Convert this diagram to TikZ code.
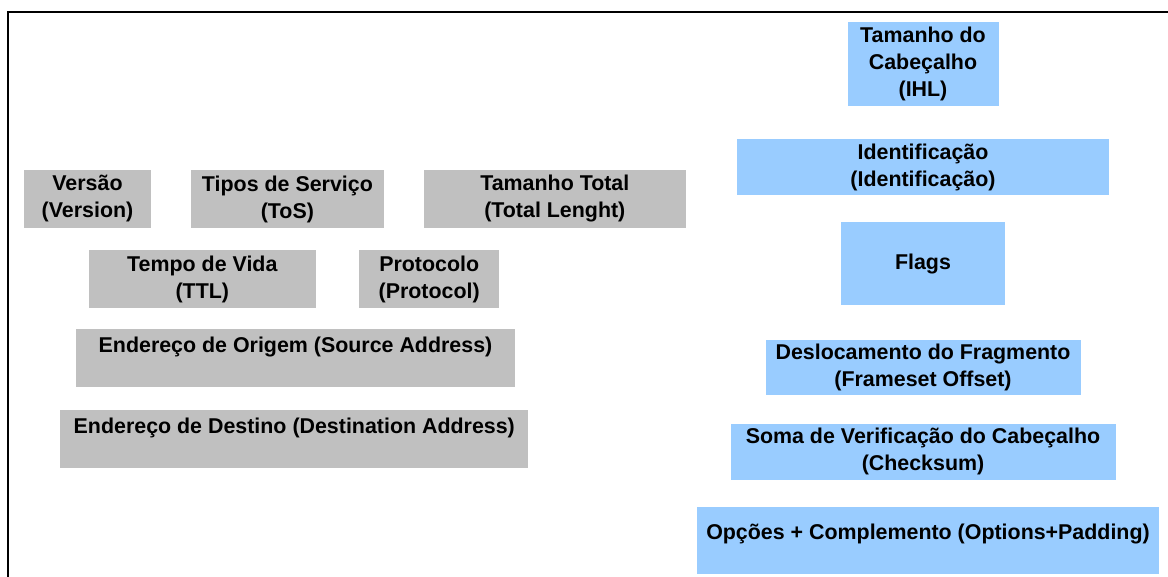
\documentclass[tikz,border=0pt]{standalone}
\usepackage{fontspec}
\setmainfont{Liberation Sans}
\usetikzlibrary{positioning}
\definecolor{ipHeaderGray}{RGB}{192,192,192}
\definecolor{ipHeaderBlue}{RGB}{153,204,255}

\begin{document}
\begin{tikzpicture}[
  x=1pt,y=-1pt,
  field/.style={
    fill=ipHeaderGray,
    inner sep=0pt,
    minimum height=58pt,
    align=center,
    font=\fontsize{21.4}{27}\selectfont\bfseries
  },
  bluefield/.style={field,fill=ipHeaderBlue}
]
  \useasboundingbox (0,0) rectangle (1168,577);
  \draw[line width=2pt] (7.8,577) -- (7.8,12) -- (1168,12);
  % campos em cinza
  \node[field,minimum width=127pt] (versao) at (87.5,199) {Versão\\(Version)};
  \node[field,minimum width=193pt,right=39.5pt of versao] (tos) {Tipos de Serviço\\(ToS)};
  \node[field,minimum width=262pt,right=39.5pt of tos] (totlen) {Tamanho Total\\(Total Lenght)};
  \node[field,minimum width=227pt] (ttl) at (202.3,279.5) {Tempo de Vida\\(TTL)};
  \node[field,minimum width=140pt,right=43pt of ttl] (proto) {Protocolo\\(Protocol)};
  \node[field,minimum width=439pt] (srcaddr) at (295.5,358.3) {Endereço de Origem (Source Address)\\~};
  \node[field,minimum width=468pt] (dstaddr) at (294.3,439.3) {Endereço de Destino (Destination Address)\\~};
  % campos em azul
  \node[bluefield,minimum width=151pt,minimum height=84pt] (ihl) at (923,63.7) {Tamanho do\\Cabeçalho\\(IHL)};
  \node[bluefield,minimum width=372pt,minimum height=56pt,below=33pt of ihl] (ident) {Identificação\\(Identificação)};
  \node[bluefield,minimum width=164pt,minimum height=83pt,below=26.7pt of ident] (flags) {Flags};
  \node[bluefield,minimum width=315pt,minimum height=55pt,below=34pt of flags] (offset) {Deslocamento do Fragmento\\(Frameset Offset)};
  \node[bluefield,minimum width=385pt,minimum height=56pt,below=28.7pt of offset] (chksum) {Soma de Verificação do Cabeçalho\\(Checksum)};
  \node[bluefield,minimum width=462pt,minimum height=67pt,below=26.6pt of chksum,xshift=5pt] (options) {Opções + Complemento (Options+Padding)\\[-10pt]~};
\end{tikzpicture}
\end{document}
